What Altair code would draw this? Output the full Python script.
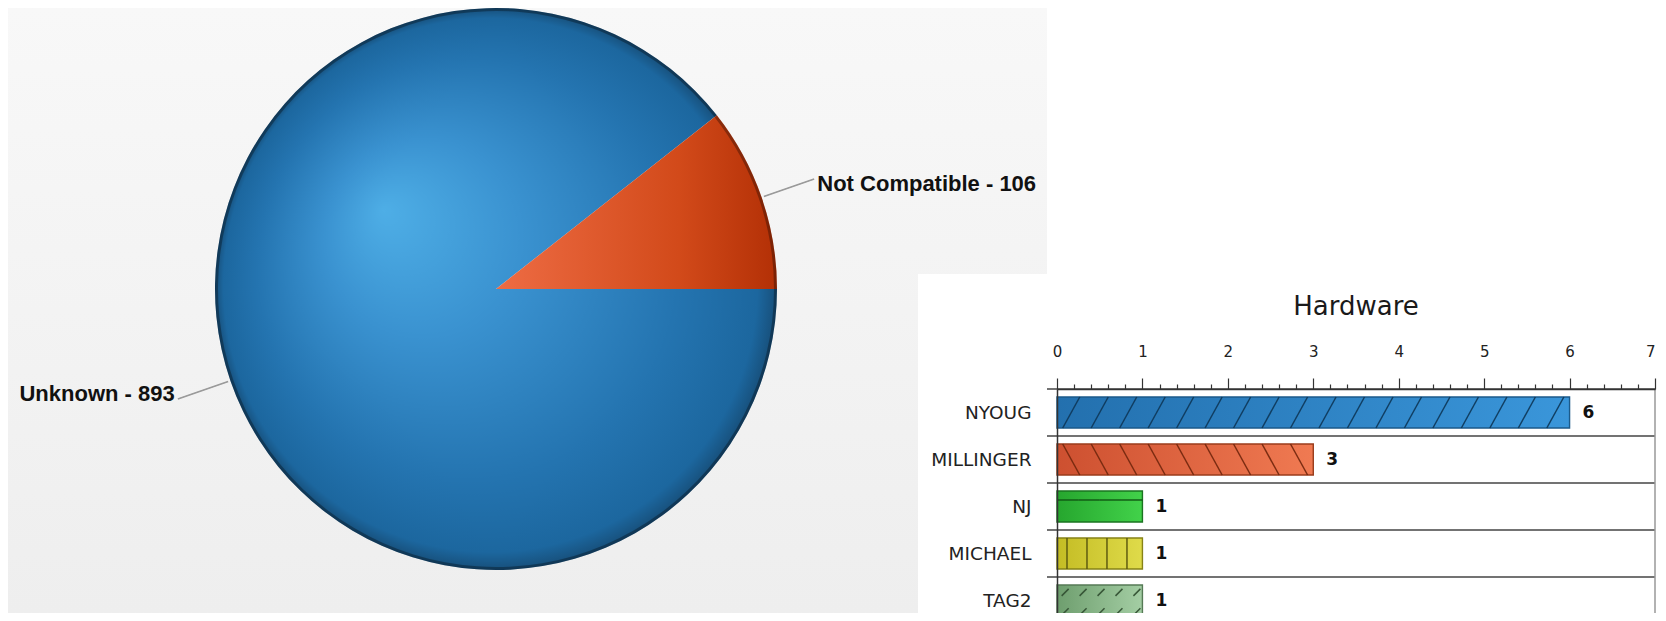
import math
import altair as alt
import pandas as pd

# ---------------- data ----------------
pie_categories = ["Unknown", "Not Compatible"]
pie_values = [893, 106]

bar_title = "Hardware"
bar_categories = ["NYOUG", "MILLINGER", "NJ", "MICHAEL", "TAG2"]
bar_values = [6, 3, 1, 1, 1]
x_major_ticks = [0, 1, 2, 3, 4, 5, 6, 7]
x_minor_ticks = [round(m + k * 0.2, 1) for m in x_major_ticks[:-1] for k in range(1, 5)]

# ---------------- layout / style ----------------
W, H = 1650, 605
PIE_CX, PIE_CY, PIE_R = 488, 281, 281
X_RANGE = [1049, 1647]
Y_RANGE = [381, 616]
GRAY_PANEL = (0, 1039, 0, H)
WHITE_PANEL = (910, W, 266, H)

BAR_STYLE = {
    "NYOUG": dict(c0="#2370ae", c1="#3a96da", stroke="#1b5a8a",
                  path="M -0.55 1 L 0.55 -1", start=1 / 6, step=1 / 3, hatch="#0f3a5c"),
    "MILLINGER": dict(c0="#cd5030", c1="#f07a52", stroke="#9a3c1c",
                      path="M -0.55 -1 L 0.55 1", start=1 / 6, step=1 / 3, hatch="#76290f"),
    "NJ": dict(c0="#26a62e", c1="#42d24a", stroke="#1a7420",
               path="M -0.69 -0.42 L 0.69 -0.42", start=0.125, step=0.25, hatch="#115814"),
    "MICHAEL": dict(c0="#c4bc24", c1="#dfdb4a", stroke="#878216",
                    path="M 0 -1 L 0 1", start=0.117, step=0.234, hatch="#5a560e"),
    "TAG2": dict(c0="#6e9e6e", c1="#a4cea4", stroke="#557a55",
                 path="M -0.25 -0.3 L 0.2 -0.75 M -0.25 0.95 L 0.2 0.5",
                 start=0.1, step=0.21, hatch="#345234"),
}

pie_df = pd.DataFrame({"cat": pie_categories, "value": pie_values})
bar_df = pd.DataFrame({"cat": bar_categories, "value": bar_values})
dummy = pd.DataFrame({"k": [0]})

theta_scale = alt.Scale(domain=[0, 1], range=[math.pi / 2, math.pi / 2 + 2 * math.pi])
xs = alt.Scale(domain=[x_major_ticks[0], x_major_ticks[-1]], range=X_RANGE)
ys = alt.Scale(domain=bar_categories, range=Y_RANGE, paddingInner=0, paddingOuter=0)


def lin(c0, c1, vertical=False):
    return alt.LinearGradient(
        gradient="linear",
        stops=[alt.GradientStop(color=c0, offset=0), alt.GradientStop(color=c1, offset=1)],
        x1=0, y1=0, x2=0 if vertical else 1, y2=1 if vertical else 0,
    )


# ---------------- background panels ----------------
gray_panel = alt.Chart(dummy).mark_rect(fill=lin("#f8f8f8", "#eeeeee", vertical=True)).encode(
    x=alt.value(GRAY_PANEL[0]), x2=alt.value(GRAY_PANEL[1]),
    y=alt.value(GRAY_PANEL[2]), y2=alt.value(GRAY_PANEL[3]))
white_panel = alt.Chart(dummy).mark_rect(fill="#ffffff").encode(
    x=alt.value(WHITE_PANEL[0]), x2=alt.value(WHITE_PANEL[1]),
    y=alt.value(WHITE_PANEL[2]), y2=alt.value(WHITE_PANEL[3]))

# ---------------- pie ----------------
pie_base = (
    alt.Chart(pie_df)
    .transform_joinaggregate(total="sum(value)")
    .transform_window(cum="sum(value)", frame=[None, 0])
    .transform_calculate(
        start="(datum.cum - datum.value) / datum.total",
        end="datum.cum / datum.total",
        mid="(datum.cum - datum.value / 2) / datum.total",
        mid2="(datum.cum - datum.value / 2) / datum.total + 0.0002",
        label="datum.cat + ' - ' + datum.value",
    )
)
center = dict(x=alt.value(PIE_CX), y=alt.value(PIE_CY))

blue_fill = alt.RadialGradient(
    gradient="radial",
    stops=[
        alt.GradientStop(color="#4eaee6", offset=0),
        alt.GradientStop(color="#3a92d0", offset=0.35),
        alt.GradientStop(color="#2474b0", offset=0.75),
        alt.GradientStop(color="#1c679f", offset=0.95),
        alt.GradientStop(color="#174f7a", offset=1),
    ],
    x1=0.3, y1=0.36, r1=0, x2=0.5, y2=0.5, r2=0.5,
)
red_fill = alt.LinearGradient(
    gradient="linear",
    stops=[
        alt.GradientStop(color="#ee6c44", offset=0),
        alt.GradientStop(color="#d24a1a", offset=0.65),
        alt.GradientStop(color="#b33006", offset=1),
    ],
    x1=0, y1=0.5, x2=1, y2=0.5,
)

LEFT = "datum.mid > 0.25 && datum.mid < 0.75"
slice_left = pie_base.transform_filter(LEFT).mark_arc(radius=PIE_R, fill=blue_fill).encode(
    theta=alt.Theta("start:Q", scale=theta_scale), theta2=alt.Theta2("end:Q"), **center)
slice_right = pie_base.transform_filter(f"!({LEFT})").mark_arc(radius=PIE_R, fill=red_fill).encode(
    theta=alt.Theta("start:Q", scale=theta_scale), theta2=alt.Theta2("end:Q"), **center)
rim = pie_base.mark_arc(radius=PIE_R, radius2=PIE_R - 3, fill="#000000", opacity=0.3).encode(
    theta=alt.Theta("start:Q", scale=theta_scale), theta2=alt.Theta2("end:Q"), **center)
leaders = pie_base.mark_arc(radius=PIE_R + 55, radius2=PIE_R + 3, fill="#9a9a9a",
                            stroke="#9a9a9a", strokeWidth=1.2).encode(
    theta=alt.Theta("mid:Q", scale=theta_scale), theta2=alt.Theta2("mid2:Q"), **center)

label_kw = dict(radius=PIE_R + 59, baseline="middle", font="Liberation Sans",
                fontWeight="bold", fontSize=22, color="#111111")
labels_left = pie_base.transform_filter(LEFT).mark_text(align="right", dy=-6, **label_kw).encode(
    theta=alt.Theta("mid:Q", scale=theta_scale), text="label:N", **center)
labels_right = pie_base.transform_filter(f"!({LEFT})").mark_text(align="left", dy=6, **label_kw).encode(
    theta=alt.Theta("mid:Q", scale=theta_scale), text="label:N", **center)

# ---------------- bars ----------------
x_axis = alt.Axis(
    orient="top", offset=-Y_RANGE[0], values=x_major_ticks, format="d", title=None, grid=False,
    tickSize=11, tickColor="#333333", tickWidth=1.2, domainColor="#333333", domainWidth=1.5,
    labelFlush=False, labelOverlap=False, labelFont="DejaVu Sans", labelFontSize=15,
    labelAlign={"condition": {"test": f"datum.value == {x_major_ticks[-1]}", "value": "right"},
                "value": "center"},
    labelColor="#222222", labelPadding=19, zindex=1,
)
x_minor_axis = alt.Axis(
    orient="top", offset=-Y_RANGE[0], values=x_minor_ticks, title=None, grid=False,
    labels=False, domain=False, tickSize=5, tickColor="#333333", tickWidth=1.2, zindex=1,
)
y_axis = alt.Axis(
    orient="left", offset=-X_RANGE[0], title=None, ticks=False, grid=False,
    domainColor="#333333", domainWidth=1.5, labelFont="DejaVu Sans", labelFontSize=18.5,
    labelColor="#222222", labelPadding=26, labelLimit=300, zindex=1,
)

layers_bars = []
for i, cat in enumerate(bar_categories):
    st = BAR_STYLE[cat]
    first = i == 0
    bar = alt.Chart(bar_df).transform_filter(alt.datum.cat == cat).mark_bar(
        height=alt.RelativeBandSize(band=0.66), fill=lin(st["c0"], st["c1"]),
        stroke=st["stroke"], strokeWidth=1.4).encode(
        x=alt.X("value:Q", scale=xs, axis=x_axis if first else None),
        y=alt.Y("cat:N", scale=ys, sort=bar_categories, axis=None),
    )
    hatch = (
        alt.Chart(bar_df)
        .transform_filter(alt.datum.cat == cat)
        .transform_calculate(h=f"sequence({st['start']}, datum.value, {st['step']})")
        .transform_flatten(["h"])
        .mark_point(shape=st["path"], size=961, filled=False, stroke=st["hatch"],
                    color=st["hatch"], strokeWidth=1.5, opacity=0.95)
        .encode(
            x=alt.X("h:Q", scale=xs, axis=x_minor_axis if first else None),
            y=alt.Y("cat:N", scale=ys, sort=bar_categories, axis=None),
        )
    )
    layers_bars += [bar, hatch]

separators = alt.Chart(bar_df).mark_rule(color="#444444", strokeWidth=1.6).encode(
    y=alt.Y("cat:N", scale=ys, sort=bar_categories, axis=None, bandPosition=0),
    x=alt.value(X_RANGE[0] - 10), x2=alt.value(X_RANGE[1]))
right_border = alt.Chart(dummy).mark_rule(color="#999999", strokeWidth=1.5).encode(
    x=alt.value(X_RANGE[1]), y=alt.value(Y_RANGE[0]), y2=alt.value(H))
value_labels = alt.Chart(bar_df).mark_text(
    align="left", baseline="middle", dx=13, font="DejaVu Sans", fontWeight="bold",
    fontSize=17, color="#111111").encode(
    x=alt.X("value:Q", scale=xs, axis=None),
    y=alt.Y("cat:N", scale=ys, sort=bar_categories, axis=y_axis),
    text="value:Q")
title_text = alt.Chart(dummy).mark_text(
    text=bar_title, font="DejaVu Sans", fontSize=26, color="#1a1a1a",
    align="center", baseline="middle").encode(
    x=alt.value((X_RANGE[0] + X_RANGE[1]) / 2), y=alt.value(299))

chart = alt.layer(
    gray_panel, white_panel,
    slice_left, slice_right, rim, leaders, labels_left, labels_right,
    *layers_bars, separators, right_border, value_labels, title_text,
).resolve_axis(x="independent", y="independent").properties(
    width=W, height=H, autosize=alt.AutoSizeParams(type="none"), padding=0,
    background="#ffffff",
).configure_view(stroke=None)

chart.save("out.html", embed_options={"renderer": "svg", "actions": False})
